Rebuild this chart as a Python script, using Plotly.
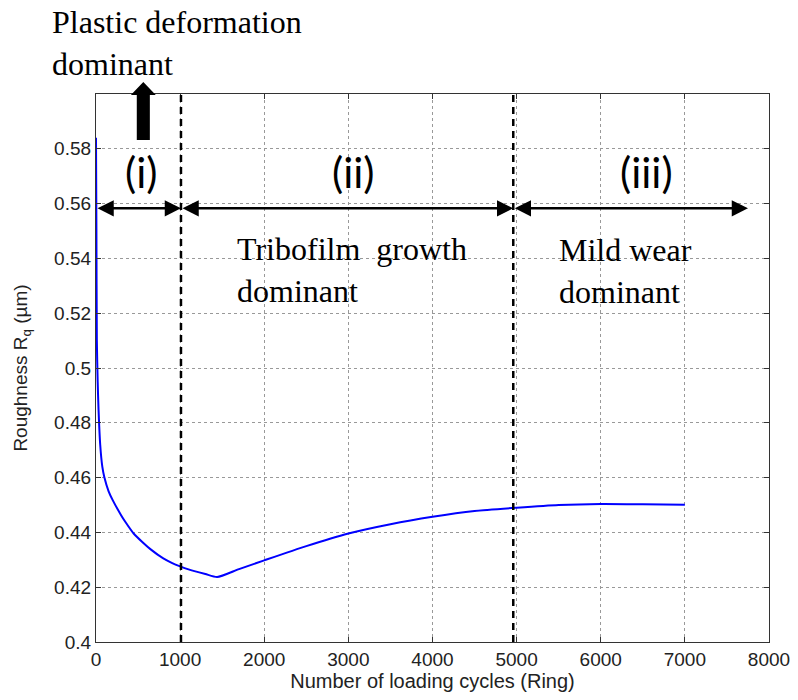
import plotly.graph_objects as go

# Data
cycles = [0, 5, 10, 20, 30, 50, 75, 100, 150, 200, 300, 350, 450, 550, 650,
          800, 900, 1000, 1100, 1300, 1440, 1700, 2000, 2500, 3000, 3500,
          4000, 4500, 5000, 5500, 6000, 6500, 7000]
roughness = [0.584, 0.55, 0.51, 0.495, 0.485, 0.472, 0.464, 0.460, 0.455,
             0.4517, 0.4462, 0.4438, 0.4395, 0.4365, 0.4338, 0.4305, 0.4289,
             0.4276, 0.4265, 0.4248, 0.4237, 0.4266, 0.4298, 0.4350, 0.4396,
             0.4430, 0.4457, 0.4478, 0.4490, 0.4500, 0.4504, 0.4503, 0.4501]

x_ticks = [0, 1000, 2000, 3000, 4000, 5000, 6000, 7000, 8000]
y_ticks = [0.4, 0.42, 0.44, 0.46, 0.48, 0.5, 0.52, 0.54, 0.56, 0.58]
y_tick_text = ["0.4", "0.42", "0.44", "0.46", "0.48", "0.5", "0.52", "0.54", "0.56", "0.58"]

boundaries = [1010, 4960]
arrow_y = 0.5583
arrow_end = 7750
region_labels = ["(i)", "(ii)", "(iii)"]
region_label_x = [545, 3066, 6541]
region_label_y = 0.5715

fig = go.Figure()
fig.add_trace(go.Scatter(x=cycles, y=roughness, mode="lines", line_shape="spline",
                         line=dict(color="#0000ff", width=2, smoothing=0.6), showlegend=False))

shapes = []
for b in boundaries:
    shapes.append(dict(type="line", xref="x", yref="paper", x0=b, x1=b, y0=0, y1=1,
                       line=dict(color="black", width=2.5, dash="7px,5px")))

# Big up arrow (plastic deformation)
cx = 0.0703
hw = 0.0097
hh = 0.0185
shapes.append(dict(type="path", xref="paper", yref="paper",
                   path=(f"M {cx-hw},0.916 L {cx+hw},0.916 L {cx+hw},0.998 L {cx+hh},0.998 "
                         f"L {cx},1.022 L {cx-hh},0.998 L {cx-hw},0.998 Z"),
                   fillcolor="black", line=dict(color="black", width=0)))

annotations = []
segments = [(0, boundaries[0]), (boundaries[0], boundaries[1]), (boundaries[1], arrow_end)]
for a, b in segments:
    annotations.append(dict(x=b, y=arrow_y, ax=a, ay=arrow_y, xref="x", yref="y",
                            axref="x", ayref="y", text="", showarrow=True,
                            arrowhead=2, startarrowhead=2, arrowside="end+start",
                            arrowsize=1.3, startarrowsize=1.3, arrowwidth=2.5,
                            arrowcolor="black"))
for t, xx in zip(region_labels, region_label_x):
    annotations.append(dict(x=xx, y=region_label_y, xref="x", yref="y", text=t,
                            showarrow=False, font=dict(family="Lato", size=42, color="black")))

serif = dict(family="Liberation Serif", size=32, color="black")
annotations.append(dict(x=1652, y=0.5357, xref="x", yref="y", xanchor="left", yanchor="middle",
                        text="Tribofilm  growth<br>dominant", showarrow=False, align="left", font=serif))
annotations.append(dict(x=5478, y=0.5353, xref="x", yref="y", xanchor="left", yanchor="middle",
                        text="Mild wear<br>dominant", showarrow=False, align="left", font=serif))
annotations.append(dict(x=-0.068, y=1.093, xref="paper", yref="paper", xanchor="left", yanchor="middle",
                        text="Plastic deformation<br>dominant", showarrow=False, align="left", font=serif))

axis_common = dict(showline=True, linecolor="#333333", linewidth=1.2, mirror="ticks",
                   ticks="inside", ticklen=5, tickcolor="#333333",
                   showgrid=True, gridcolor="#999999", griddash="dot", gridwidth=1,
                   zeroline=False, tickfont=dict(family="Liberation Sans", size=19, color="#222222"),
                   automargin=False)

fig.update_layout(
    width=798, height=700,
    margin=dict(l=96, r=29, t=94, b=58),
    paper_bgcolor="white", plot_bgcolor="white",
    shapes=shapes, annotations=annotations,
    xaxis=dict(range=[0, 8000], tickvals=x_ticks,
               title=dict(text="Number of loading cycles (Ring)", standoff=2,
                          font=dict(family="Liberation Sans", size=20, color="#222222")),
               **axis_common),
    yaxis=dict(range=[0.4, 0.6], tickvals=y_ticks, ticktext=y_tick_text,
               title=dict(text="Roughness R<sub>q</sub> (µm)", standoff=21,
                          font=dict(family="Liberation Sans", size=19, color="#222222")),
               **axis_common),
)

fig.write_html("out.html")
